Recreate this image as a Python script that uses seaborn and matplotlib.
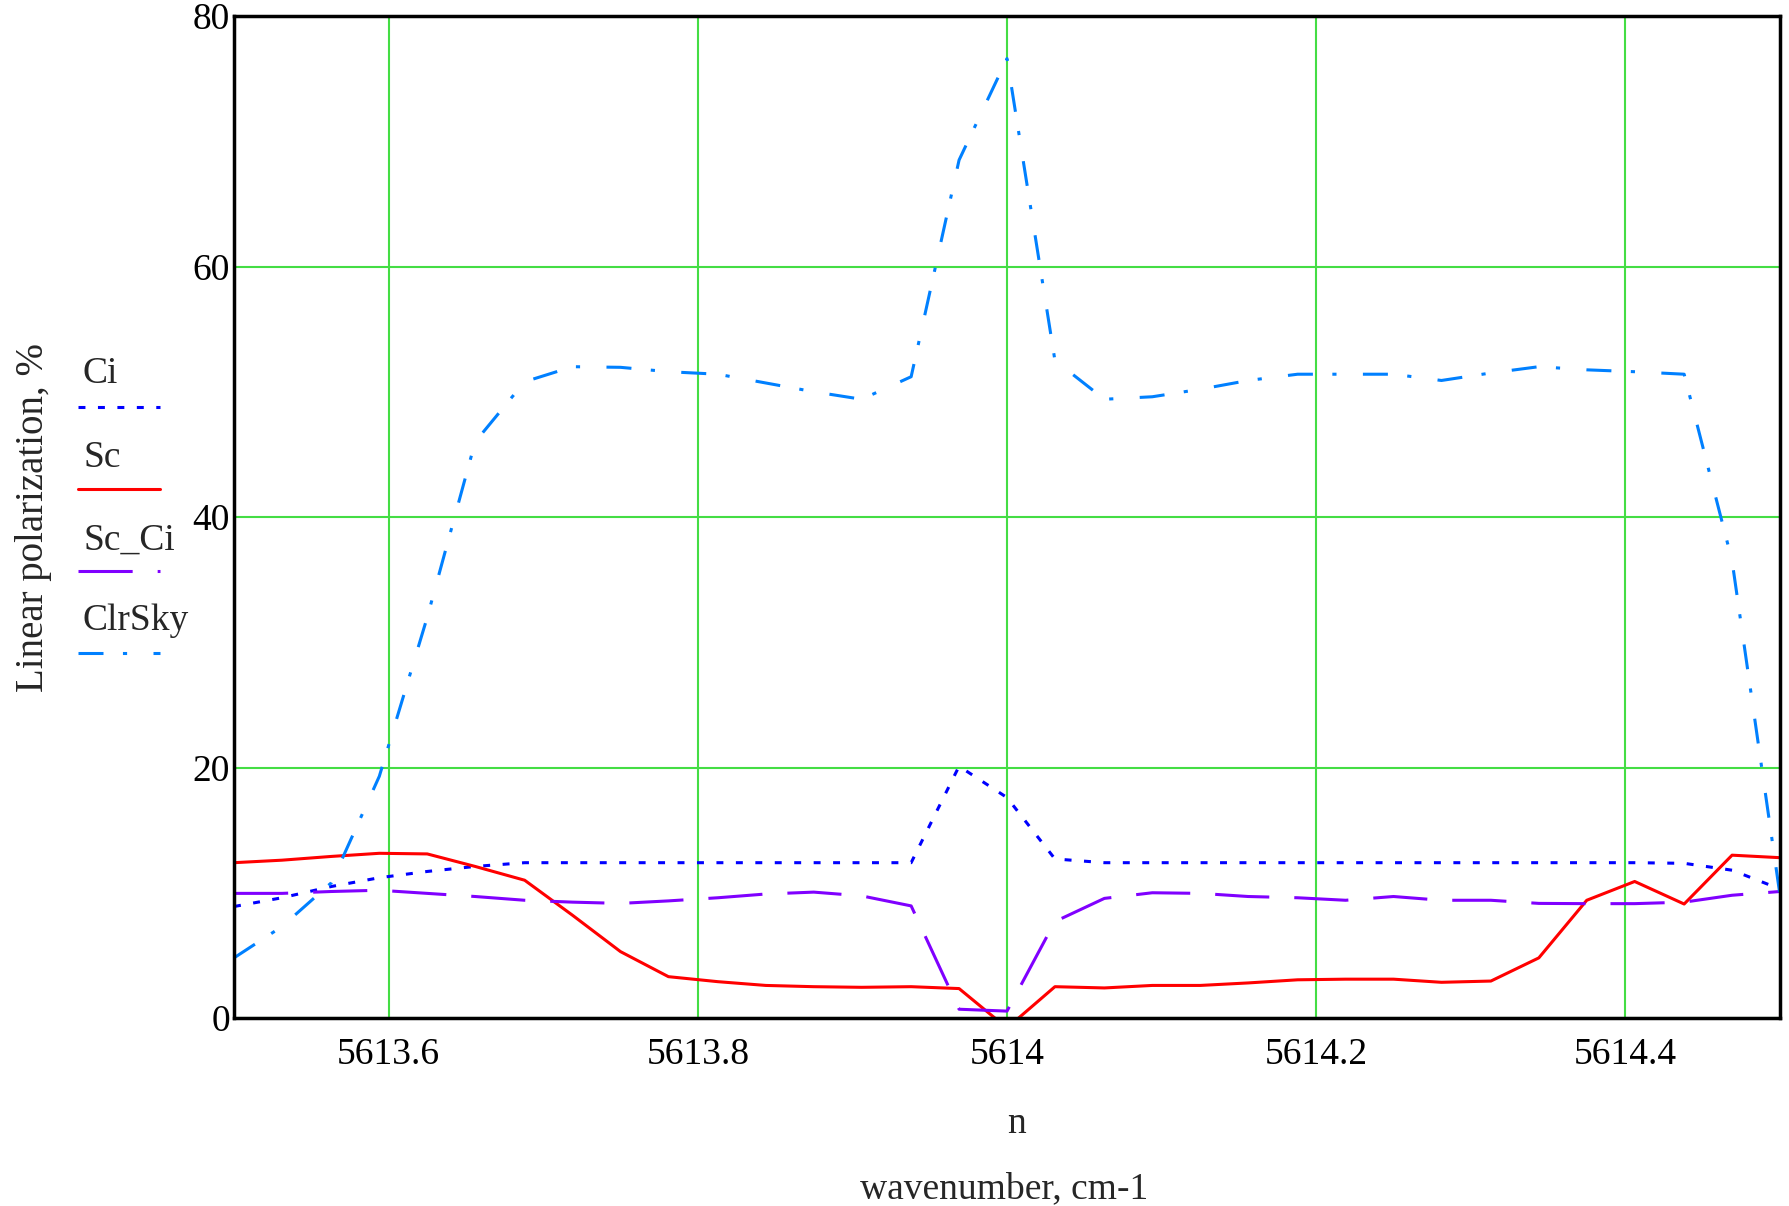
"""
Linear polarization vs wavenumber for the four sky cases (Ci, Sc, Sc_Ci, ClrSky).
Saves the figure to out.png
"""

import matplotlib
matplotlib.use('Agg')
import matplotlib.pyplot as plt
from matplotlib.lines import Line2D
import pandas as pd
import seaborn as sns

# Data (grid step ~1/32 cm-1)

WAVENUMBER = [5613.5, 5613.531, 5613.563, 5613.594, 5613.625, 5613.656, 5613.688,
              5613.719, 5613.75, 5613.781, 5613.813, 5613.844, 5613.875, 5613.906,
              5613.938, 5613.969, 5614.0, 5614.031, 5614.063, 5614.094, 5614.125,
              5614.156, 5614.188, 5614.219, 5614.25, 5614.281, 5614.313, 5614.344,
              5614.375, 5614.406, 5614.438, 5614.469, 5614.5]

CI = [8.9, 9.6, 10.5, 11.2, 11.7, 12.1, 12.4, 12.4, 12.4, 12.4, 12.4, 12.4, 12.4,
      12.4, 12.4, 20.1, 17.6, 12.7, 12.4, 12.4, 12.4, 12.4, 12.4, 12.4, 12.4, 12.4,
      12.4, 12.4, 12.4, 12.4, 12.35, 11.8, 10.3]

SC = [12.4, 12.6, 12.9, 13.15, 13.1, 12.1, 11.0, 8.2, 5.3, 3.3, 2.9, 2.6, 2.5,
      2.45, 2.5, 2.35, -0.8, 2.5, 2.4, 2.6, 2.6, 2.8, 3.05, 3.1, 3.1, 2.85, 2.95,
      4.8, 9.4, 10.9, 9.1, 13.0, 12.8]

SC_CI = [9.95, 9.95, 10.1, 10.2, 9.95, 9.7, 9.4, 9.25, 9.15, 9.35, 9.6, 9.9, 10.05,
         9.75, 8.95, 0.7, 0.55, 7.7, 9.55, 10.0, 9.95, 9.7, 9.6, 9.4, 9.7, 9.4, 9.4,
         9.15, 9.13, 9.13, 9.25, 9.8, 10.1]

CLR_SKY = [4.8, 7.3, 10.8, 19.3, 32.0, 46.0, 50.8, 52.0, 51.95, 51.6, 51.4, 50.7,
           50.0, 49.4, 51.2, 68.5, 76.6, 52.5, 49.4, 49.6, 50.2, 50.9, 51.4, 51.4,
           51.4, 50.9, 51.5, 52.0, 51.75, 51.6, 51.4, 36.5, 9.8]

SERIES = ['Ci', 'Sc', 'Sc_Ci', 'ClrSky']
VALUES = [CI, SC, SC_CI, CLR_SKY]

XTICKS = [5613.6, 5613.8, 5614.0, 5614.2, 5614.4]
XTICK_LABELS = ['5613.6', '5613.8', '5614', '5614.2', '5614.4']
YTICKS = [0, 20, 40, 60, 80]

# Style

COLORS = {'Ci': '#0000ff', 'Sc': '#ff0000', 'Sc_Ci': '#8000ff', 'ClrSky': '#0080ff'}
DASHES = {'Ci': (5, 9), 'Sc': '', 'Sc_Ci': (39, 18), 'ClrSky': (18, 14, 3, 19)}
GRID_GREEN = '#44dd44'
LW = 2.2
FS = 27

W, H = 1789, 1206

sns.set_theme(style='white')
plt.rcParams['font.family'] = ['Liberation Serif', 'DejaVu Serif']
plt.rcParams['lines.scale_dashes'] = False

df = pd.DataFrame({
    'n': WAVENUMBER * len(SERIES),
    'P': [v for vals in VALUES for v in vals],
    'series': [s for s in SERIES for _ in WAVENUMBER],
})

fig = plt.figure(figsize=(W / 100, H / 100), dpi=100)
ax = fig.add_axes([234 / W, 1 - 1018 / H, (1780 - 234) / W, (1018 - 16) / H])

sns.lineplot(
    data=df, x='n', y='P',
    hue='series', style='series',
    hue_order=SERIES, style_order=SERIES,
    palette=COLORS, dashes=DASHES,
    linewidth=LW, legend=False, ax=ax,
)

ax.set_xlim(5613.5, 5614.5)
ax.set_ylim(0, 80)
ax.set_xticks(XTICKS)
ax.set_xticklabels(XTICK_LABELS)
ax.set_yticks(YTICKS)
ax.grid(True, color=GRID_GREEN, linewidth=1.5)
ax.set_axisbelow(True)
ax.tick_params(axis='both', length=0, labelsize=FS, colors='black')
ax.tick_params(axis='x', pad=14)
ax.tick_params(axis='y', pad=3)
ax.set_xlabel('')
ax.set_ylabel('')
for spine in ax.spines.values():
    spine.set_visible(True)
    spine.set_color('black')
    spine.set_linewidth(2.5)

# axis titles (Mathcad style: variable name, then the unit line below)
fig.text(34 / W, 1 - 517 / H, 'Linear polarization, %', rotation=90,
         ha='center', va='center', fontsize=FS + 1)
fig.text(1017 / W, 1 - 1133 / H, 'n', ha='center', va='baseline', fontsize=FS)
fig.text(1004 / W, 1 - 1198 / H, 'wavenumber, cm-1', ha='center', va='baseline',
         fontsize=FS)

# legend: name above its line sample, left of the plot
label_y = [383, 467, 550, 630]
line_y = [407, 489, 571, 653]
for name, ty, ly in zip(SERIES, label_y, line_y):
    fig.text(83 / W, 1 - ty / H, name, ha='left', va='baseline', fontsize=FS)
    dash = DASHES[name]
    style = '-' if dash == '' else (0, dash)
    fig.add_artist(Line2D([78 / W, 160 / W], [1 - ly / H, 1 - ly / H],
                          transform=fig.transFigure, color=COLORS[name],
                          linewidth=LW, linestyle=style))

fig.savefig('out.png', dpi=100)
plt.close(fig)
